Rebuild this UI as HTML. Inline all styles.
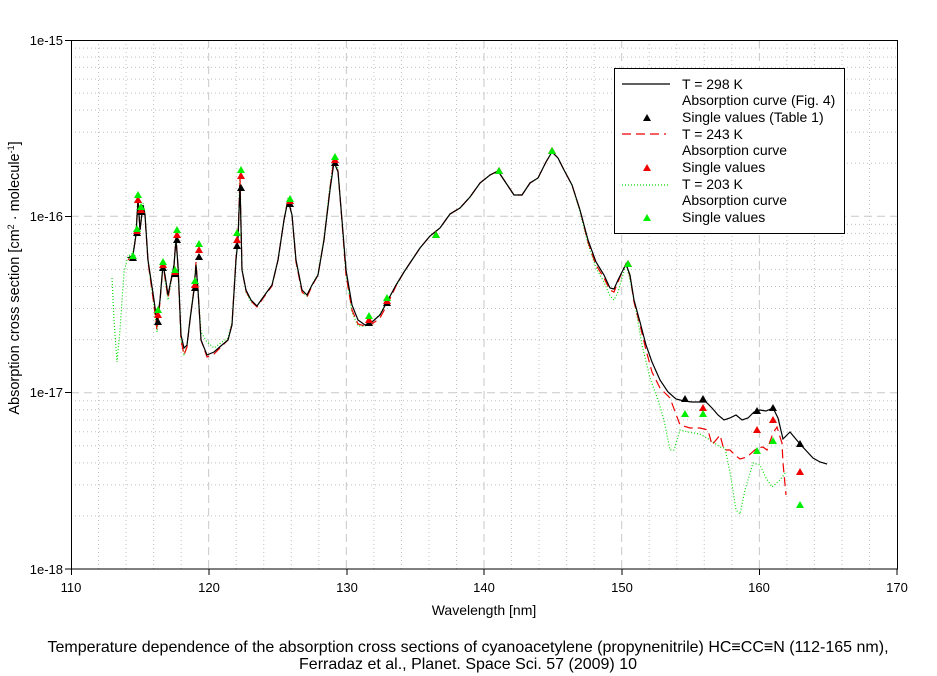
<!DOCTYPE html>
<html><head><meta charset="utf-8"><style>
html,body{margin:0;padding:0;background:#fff;}
svg{display:block;font-family:"Liberation Sans",sans-serif;}
</style></head><body>
<svg width="937" height="676" viewBox="0 0 937 676" xmlns="http://www.w3.org/2000/svg">
<g id="grid"></g>
<script>
(function(){
var ns="http://www.w3.org/2000/svg",g=document.getElementById("grid");
function L(x1,y1,x2,y2,st,da){var l=document.createElementNS(ns,"line");l.setAttribute("x1",x1);l.setAttribute("y1",y1);l.setAttribute("x2",x2);l.setAttribute("y2",y2);l.setAttribute("stroke",st);l.setAttribute("stroke-width",1);if(da)l.setAttribute("stroke-dasharray",da);g.appendChild(l);}
for(var w=112;w<170;w+=2){var x=71+(w-110)*13.767;if(w%10==0)L(x,40,x,569,"#c8c8c8","8,5");else L(x,40,x,569,"#c0c0c0","1,3");}
for(var d=0;d<3;d++){for(var k=2;k<10;k++){var y=569-(d+Math.log10(k))*176.33;L(71,y,897,y,"#c0c0c0","1,3");}}
L(71,216.3,897,216.3,"#c8c8c8","8,5");L(71,392.7,897,392.7,"#c8c8c8","8,5");
})();
</script>
<rect x="71.5" y="40.5" width="826" height="528.5" fill="none" stroke="#000" stroke-width="1"/>
<g stroke="#000">
<line x1="71.5" y1="569" x2="71.5" y2="575"/><line x1="209" y1="569" x2="209" y2="575"/><line x1="347" y1="569" x2="347" y2="575"/><line x1="484" y1="569" x2="484" y2="575"/><line x1="622" y1="569" x2="622" y2="575"/><line x1="759.5" y1="569" x2="759.5" y2="575"/><line x1="897" y1="569" x2="897" y2="575"/>
<line x1="65" y1="40.5" x2="71" y2="40.5"/><line x1="65" y1="216.5" x2="71" y2="216.5"/><line x1="65" y1="392.5" x2="71" y2="392.5"/><line x1="65" y1="569" x2="71" y2="569"/>
</g>
<g font-size="13" fill="#000" text-anchor="middle">
<text x="71" y="592">110</text><text x="209" y="592">120</text><text x="347" y="592">130</text><text x="484" y="592">140</text><text x="622" y="592">150</text><text x="759" y="592">160</text><text x="897" y="592">170</text>
</g>
<g font-size="13" fill="#000" text-anchor="end">
<text x="63" y="45">1e-15</text><text x="63" y="221">1e-16</text><text x="63" y="397">1e-17</text><text x="63" y="574">1e-18</text>
</g>
<text x="484" y="615" font-size="14" text-anchor="middle">Wavelength [nm]</text>
<text transform="translate(19,278) rotate(-90)" font-size="14.5" text-anchor="middle">Absorption cross section [cm<tspan baseline-shift="super" font-size="9">2</tspan> · molecule<tspan baseline-shift="super" font-size="9">-1</tspan>]</text>
<text x="468" y="652" font-size="16" text-anchor="middle">Temperature dependence of the absorption cross sections of cyanoacetylene (propynenitrile) HC≡CC≡N (112-165 nm),</text>
<text x="468" y="669" font-size="16" text-anchor="middle">Ferradaz et al., Planet. Space Sci. 57 (2009) 10</text>

<polyline fill="none" stroke="#00dd00" stroke-width="1.2" stroke-dasharray="1,2" points="112,278 114,320 117,362 120,330 124,272 128,256 133,253 136,232 138,194 140,228 143,203 145,213 148,262 154,306 157,332 160,300 163,262 165,280 168,300 171,282 174,268 176,232 178,270 181,340 184,354 187,346 190,318 194,288 196,262 198,290 201,332 207,342 214,348 222,342 228,338 232,322 236,258 238,235 240,172 242,268 246,292 251,302 257,306 264,296 272,285 278,260 284,220 288,198 292,215 296,262 302,292 307,296 312,285 318,274 324,238 330,186 334,156 338,170 342,222 346,275 352,312 358,326 365,326 372,322 380,314 388,300 396,286 404,272 412,260 420,248 430,236 440,228 450,214 460,208 470,197 480,183 490,175 498,171 506,183 514,195 522,195 530,183 538,178 546,162 552,152 558,158 564,170 572,185 580,212 588,244 596,268 604,282 610,296 614,300 618,292 622,278 626,264 630,280 636,310 642,345 650,378 658,400 664,420 670,450 674,450 680,430 688,432 700,434 710,440 720,447 725,448 730,472 736,510 740,514 745,490 753,463 760,465 766,478 772,487 780,480 786,472"/>
<polyline fill="none" stroke="#ee0000" stroke-width="1.2" stroke-dasharray="9,5" points="128,260 133,256 136,234 138,198 140,230 143,205 145,216 148,262 154,305 157,330 160,302 163,264 165,278 168,298 171,281 174,266 176,236 178,268 181,340 184,355 187,347 190,320 194,289 196,262 198,290 201,340 207,357 214,354 222,346 228,340 232,324 236,258 238,238 240,178 242,270 246,291 251,301 257,307 264,297 272,286 278,260 284,220 288,199 292,215 296,262 302,292 307,297 312,286 318,275 324,240 330,188 334,158 338,171 342,222 346,275 352,310 358,324 365,326 372,324 380,318 388,303 396,286 404,272 412,260 420,248 430,236 440,228 450,214 460,208 470,197 480,183 490,175 498,171 506,183 514,195 522,195 530,183 538,178 546,162 552,152 558,158 564,170 572,185 580,210 588,242 596,265 604,278 610,290 614,292 618,282 622,272 626,264 630,276 634,302 640,325 646,350 652,372 660,388 670,398 680,425 690,428 700,428 708,430 712,445 720,435 724,450 730,450 736,456 740,459 747,457 757,448 763,447 767,450 773,433 777,427 780,437 782,443 783,463 786,495"/>
<polyline fill="none" stroke="#000" stroke-width="1.2" points="128,258 133,255 136,235 138,200 140,230 143,205 145,215 148,260 154,300 157,322 160,300 163,265 165,275 168,295 171,280 174,265 176,240 178,265 181,335 184,348 187,345 190,320 194,290 196,265 198,290 201,340 207,355 214,352 222,345 228,340 232,325 236,260 238,240 240,185 242,270 246,290 251,300 257,306 264,296 272,285 278,260 284,220 288,200 292,215 296,260 302,290 307,295 312,285 318,275 324,240 330,190 334,162 338,172 342,220 346,270 352,305 358,320 365,325 372,322 380,315 388,300 396,285 404,272 412,260 420,248 430,236 440,228 450,214 460,208 470,197 480,183 490,175 498,171 506,183 514,195 522,195 530,183 538,178 546,162 552,152 558,158 564,170 572,185 580,210 588,240 596,262 604,275 610,288 614,289 618,280 622,272 626,264 630,275 634,300 640,322 646,345 652,362 660,380 668,392 676,399 684,401 692,402 700,402 706,402 712,408 718,415 724,420 730,418 736,415 742,420 748,418 754,412 760,410 766,411 773,408 778,418 783,439 790,432 800,444 813,458 820,462 827,464"/>

<defs>
<path id="tk" d="M0,-4 L4,3 L-4,3 Z" fill="#000"/>
<path id="tr" d="M0,-4 L4,3 L-4,3 Z" fill="#ee0000"/>
<path id="tg" d="M0,-4 L4,3 L-4,3 Z" fill="#00ee00"/>
</defs>
<g id="tri"></g>
<script>
(function(){
var ns="http://www.w3.org/2000/svg",g=document.getElementById("tri");
var d=[[133,258,null,256],[137,233,231,229],[138,200,200,195],[141,212,210,207],[158,322,315,310],[163,268,265,262],[175,274,272,270],[177,240,235,230],[195,288,285,281],[199,257,250,244],[237,246,240,233],[241,188,176,170],[290,204,201,199],[335,163,160,157],[369,323,320,316],[387,303,301,298],[436,235,235,235],[499,171,171,171],[552,151,151,151],[628,264,264,264],[685,399,null,414],[703,399,408,414],[757,411,430,451],[773,408,420,441],[800,444,472,505]];
function U(id,x,y){var u=document.createElementNS(ns,"use");u.setAttribute("href","#"+id);u.setAttribute("x",x);u.setAttribute("y",y);g.appendChild(u);}
d.forEach(function(p){U("tk",p[0],p[1]);if(p[2]!=null)U("tr",p[0],p[2]);U("tg",p[0],p[3]);});
})();
</script>

<rect x="614.5" y="68.5" width="230" height="165" fill="#fff" stroke="#000"/>
<line x1="622" y1="84" x2="670" y2="84" stroke="#000" stroke-width="1.2"/>
<use href="#tk" x="647" y="118"/>
<line x1="622" y1="134" x2="666" y2="134" stroke="#ee0000" stroke-width="1.2" stroke-dasharray="9,5"/>
<use href="#tr" x="647" y="168"/>
<line x1="622" y1="185" x2="668" y2="185" stroke="#00dd00" stroke-width="1.2" stroke-dasharray="1,2"/>
<use href="#tg" x="647" y="218"/>
<g font-size="14" fill="#000">
<text x="682" y="89">T = 298 K</text>
<text x="682" y="105">Absorption curve (Fig. 4)</text>
<text x="682" y="122">Single values (Table 1)</text>
<text x="682" y="139">T = 243 K</text>
<text x="682" y="155">Absorption curve</text>
<text x="682" y="172">Single values</text>
<text x="682" y="189">T = 203 K</text>
<text x="682" y="205">Absorption curve</text>
<text x="682" y="222">Single values</text>
</g>
</svg>
</body></html>
